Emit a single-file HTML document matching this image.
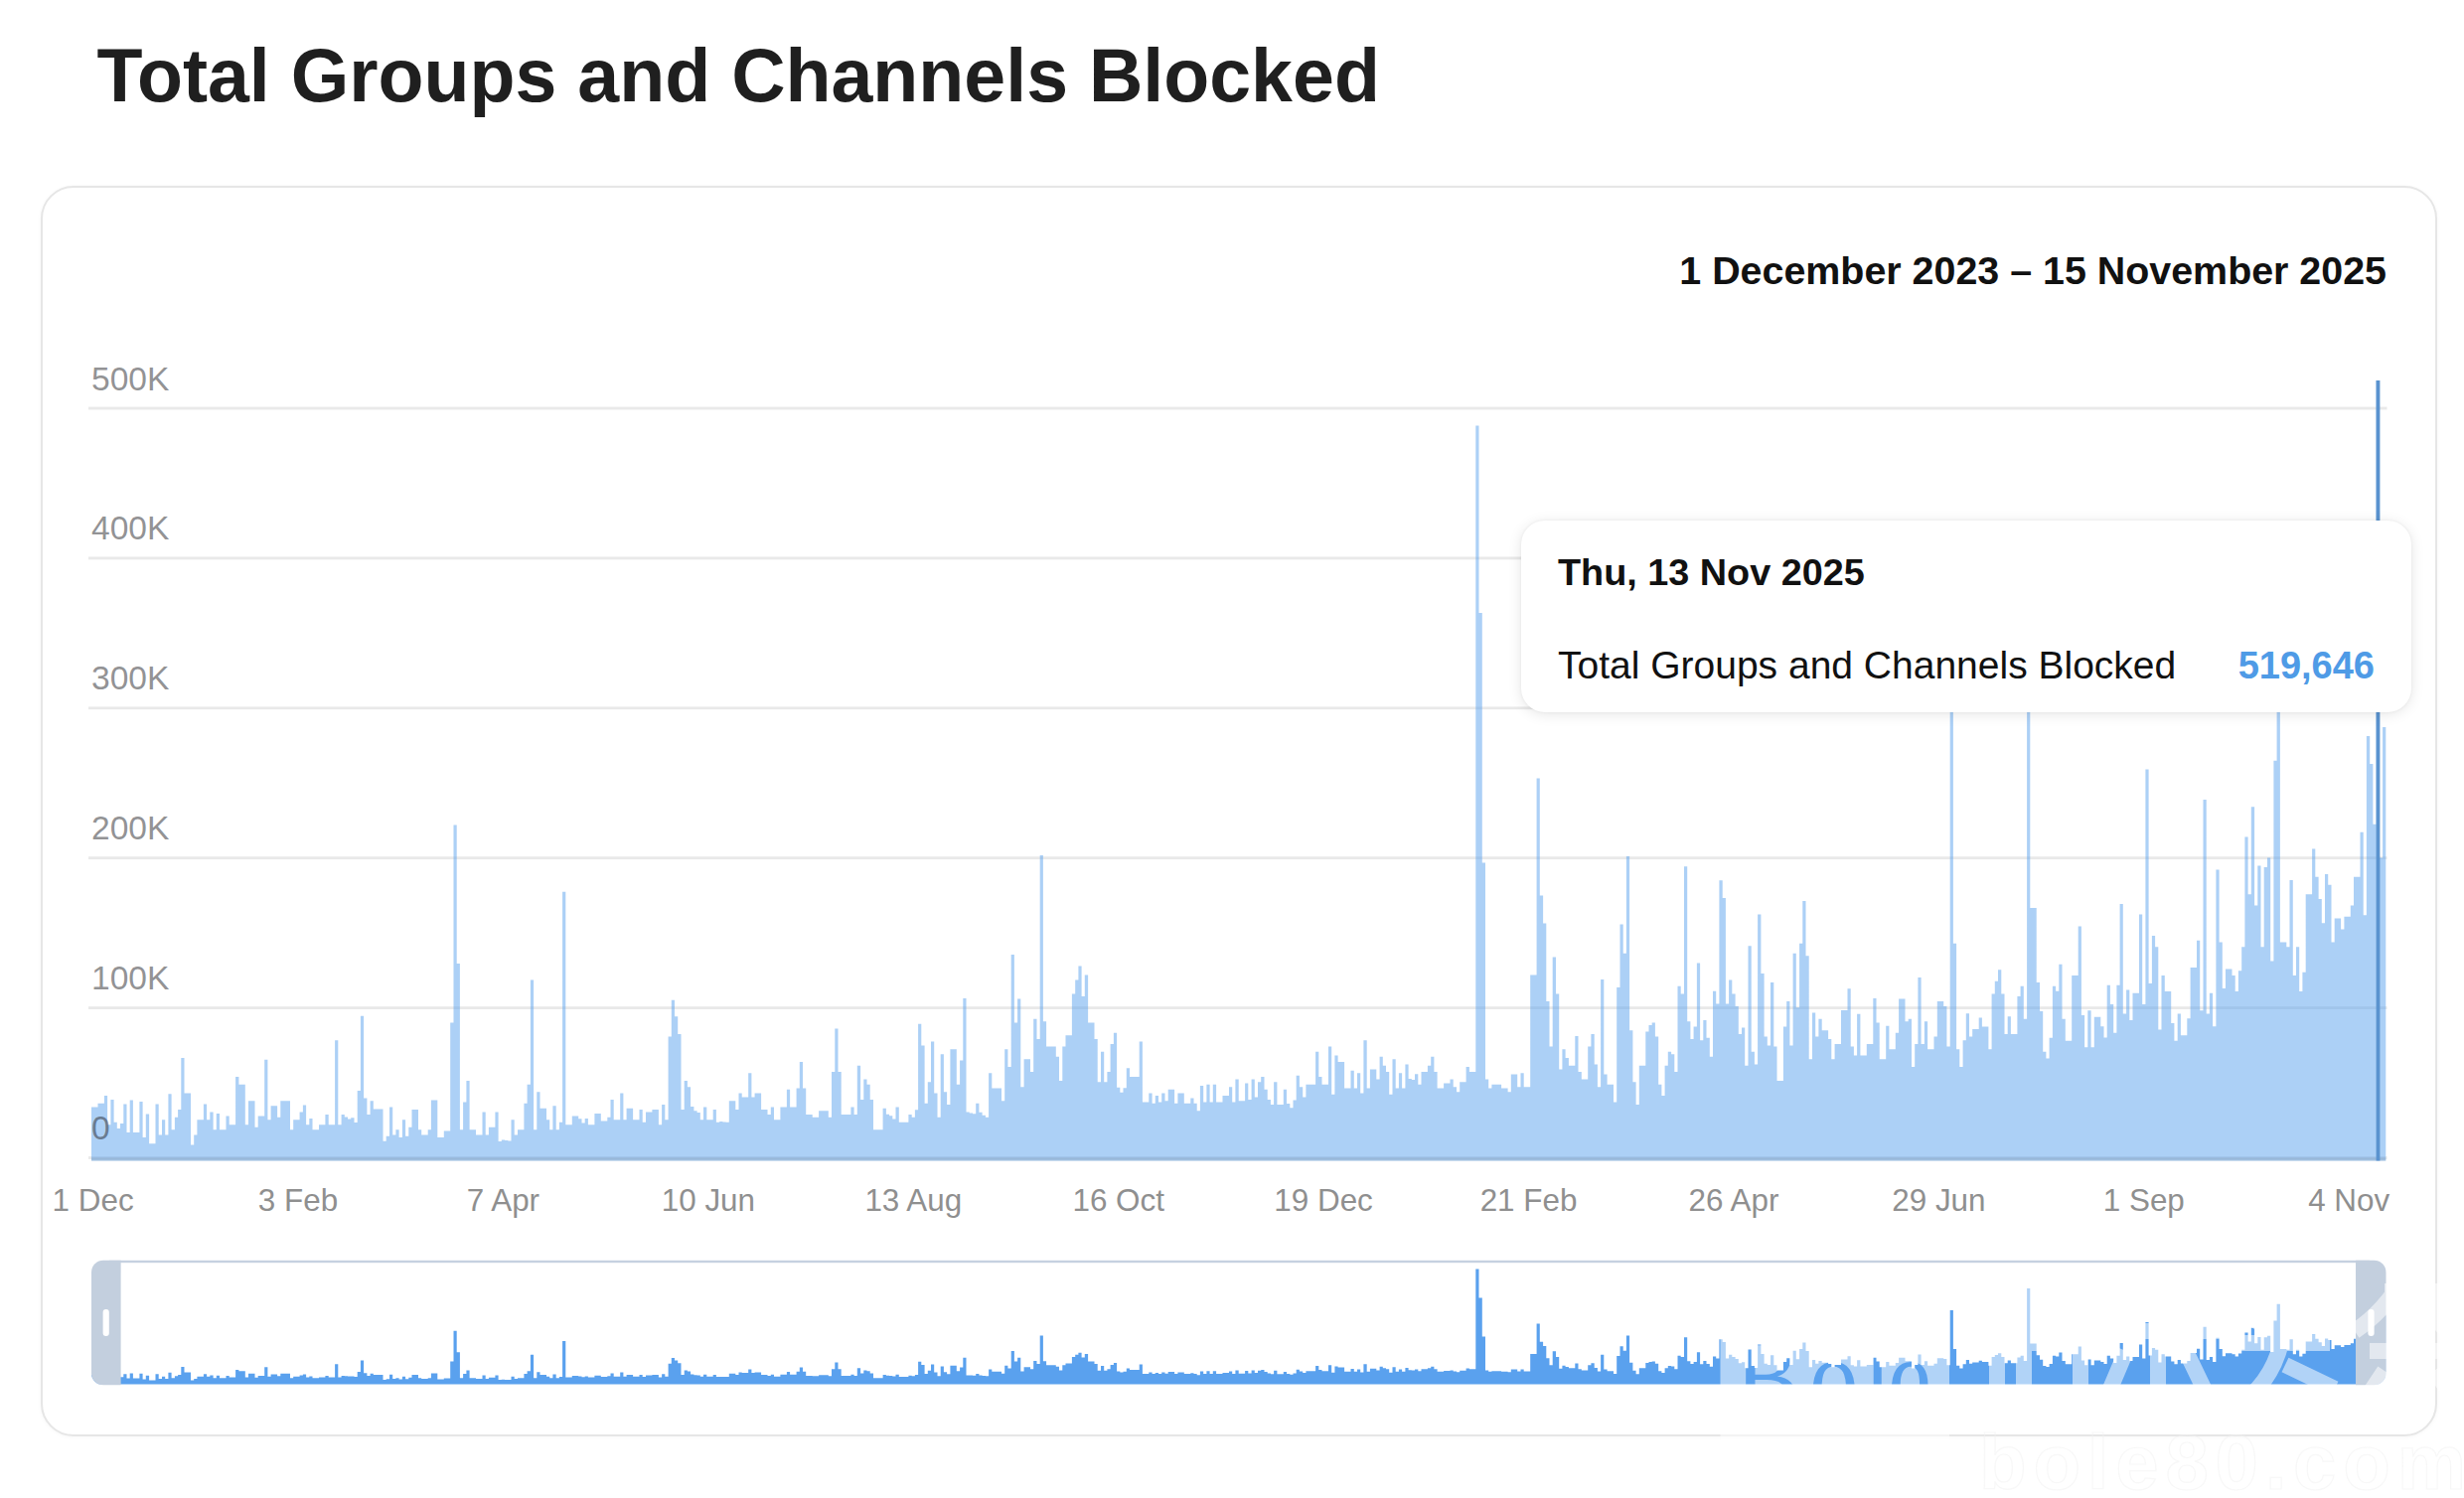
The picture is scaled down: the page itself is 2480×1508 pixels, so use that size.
<!DOCTYPE html>
<html><head><meta charset="utf-8"><title>Total Groups and Channels Blocked</title>
<style>
html,body{margin:0;padding:0;background:#fff;}
body{width:2480px;height:1508px;position:relative;overflow:hidden;font-family:"Liberation Sans",sans-serif;}
.abs{position:absolute;white-space:nowrap;}
#title{left:97.5px;top:32px;font-size:75.3px;font-weight:bold;color:#1f1f1f;line-height:88px;letter-spacing:0px;}
#card{left:40.5px;top:187px;width:2408px;height:1254.5px;border:2.8px solid #e6e6e6;border-radius:33px;box-sizing:content-box;background:#fff;box-shadow:0 1px 5px rgba(0,0,0,0.03);}
#range{right:78px;top:249px;font-size:39.4px;font-weight:bold;color:#111;line-height:46px;}
.yl{left:92px;font-size:33.6px;color:rgba(40,40,44,0.52);line-height:36px;}
.xl{font-size:31.4px;color:#8f8f8f;line-height:36px;top:1190.6px;transform:translateX(-50%);}
#tip{left:1531px;top:524px;width:896px;height:193px;border-radius:24px;background:#fff;box-shadow:0 2px 14px rgba(0,0,0,0.10),0 0 3px rgba(0,0,0,0.06);}
#tipdate{left:37px;top:30.7px;font-size:37.8px;font-weight:bold;color:#111;line-height:42px;}
#tiplabel{left:37px;top:124.7px;font-size:39px;color:#111;line-height:42px;}
#tipval{right:37px;top:124.7px;font-size:38px;font-weight:bold;color:#4f9be6;line-height:42px;}
svg{position:absolute;left:0;top:0;}
</style></head><body>
<div class="abs" id="title">Total Groups and Channels Blocked</div>
<div class="abs" id="card"></div>
<div class="abs" id="range">1 December 2023 – 15 November 2025</div>

<svg width="2480" height="1508" viewBox="0 0 2480 1508"><rect x="89" y="409.6" width="2313.5" height="2.8" fill="#e9e9e9"/><rect x="89" y="560.5" width="2313.5" height="2.8" fill="#e9e9e9"/><rect x="89" y="711.4" width="2313.5" height="2.8" fill="#e9e9e9"/><rect x="89" y="862.3" width="2313.5" height="2.8" fill="#e9e9e9"/><rect x="89" y="1013.2" width="2313.5" height="2.8" fill="#e9e9e9"/><rect x="89" y="1164.1" width="2313.5" height="2.8" fill="#e9e9e9"/></svg>
<svg width="2480" height="1508" viewBox="0 0 2480 1508"><path d="M92.0,1168.5V1114.5H95.2V1114.5H98.5V1110.7H101.7V1110.7H104.9V1103.1H108.1V1132.3H111.4V1106.9H114.6V1129.8H117.8V1136.1H121.0V1130.9H124.3V1111.5H127.5V1139.9H130.7V1107.4H133.9V1139.9H137.2V1139.9H140.4V1108.9H143.6V1145.0H146.8V1121.6H150.1V1151.3H153.3V1151.3H156.5V1111.5H159.7V1142.4H163.0V1127.2H166.2V1142.4H169.4V1101.3H172.6V1137.3H175.9V1124.7H179.1V1117.1H182.3V1065.1H185.5V1100.6H188.8V1100.6H192.0V1152.6H195.2V1142.4H198.4V1127.2H201.7V1127.2H204.9V1111.5H208.1V1127.2H211.3V1119.6H214.6V1137.3H217.8V1120.9H221.0V1137.3H224.2V1137.3H227.5V1123.4H230.7V1132.3H233.9V1132.3H237.1V1084.1H240.4V1091.7H243.6V1091.7H246.8V1132.3H250.0V1108.2H253.3V1108.2H256.5V1134.8H259.7V1123.4H262.9V1123.4H266.2V1066.8H269.4V1127.2H272.6V1113.3H275.8V1113.3H279.1V1124.7H282.3V1108.2H285.5V1108.2H288.7V1108.2H292.0V1137.3H295.2V1127.2H298.4V1127.2H301.6V1119.6H304.9V1112.5H308.1V1132.3H311.3V1125.9H314.5V1137.3H317.8V1137.3H321.0V1132.3H324.2V1132.3H327.4V1122.1H330.7V1132.3H333.9V1132.3H337.1V1047.3H340.3V1132.3H343.6V1122.1H346.8V1124.4H350.0V1126.6H353.2V1125.3H356.5V1129.9H359.7V1098.0H362.9V1022.7H366.1V1105.6H369.4V1122.1H372.6V1108.2H375.8V1116.6H379.0V1116.6H382.3V1116.6H385.5V1148.8H388.7V1143.7H392.0V1114.5H395.2V1142.4H398.4V1137.3H401.6V1145.0H404.9V1127.2H408.1V1143.7H411.3V1134.8H414.5V1117.1H417.8V1117.1H421.0V1137.3H424.2V1142.4H427.4V1142.4H430.7V1137.3H433.9V1107.4H437.1V1107.4H440.3V1145.0H443.6V1145.0H446.8V1138.6H450.0V1138.6H453.2V1029.5H456.5V830.4H459.7V969.9H462.9V1137.3H466.1V1109.4H469.4V1087.9H472.6V1137.3H475.8V1137.3H479.0V1142.4H482.3V1142.4H485.5V1119.6H488.7V1142.4H491.9V1134.8H495.2V1134.8H498.4V1119.6H501.6V1149.0H504.8V1147.4H508.1V1148.1H511.3V1148.6H514.5V1127.2H517.7V1142.4H521.0V1137.3H524.2V1137.3H527.4V1110.7H530.6V1091.7H533.9V986.4H537.1V1137.3H540.3V1099.3H543.5V1115.8H546.8V1115.8H550.0V1127.2H553.2V1137.3H556.4V1113.3H559.7V1137.3H562.9V1129.7H566.1V897.7H569.3V1132.3H572.6V1132.3H575.8V1123.4H579.0V1123.4H582.2V1126.2H585.5V1130.5H588.7V1126.0H591.9V1132.3H595.1V1132.3H598.4V1120.9H601.6V1120.9H604.8V1128.5H608.0V1128.5H611.3V1124.7H614.5V1106.9H617.7V1127.2H620.9V1127.2H624.2V1100.6H627.4V1127.2H630.6V1115.8H633.8V1115.8H637.1V1127.2H640.3V1127.2H643.5V1117.1H646.7V1129.7H650.0V1119.6H653.2V1119.6H656.4V1117.1H659.6V1117.1H662.9V1132.3H666.1V1112.0H669.3V1127.2H672.6V1043.5H675.8V1006.7H679.0V1023.2H682.2V1041.0H685.5V1117.1H688.7V1087.9H691.9V1094.2H695.1V1114.1H698.4V1118.3H701.6V1119.9H704.8V1127.2H708.0V1114.5H711.3V1127.2H714.5V1127.2H717.7V1117.1H720.9V1129.7H724.2V1128.9H727.4V1129.6H730.6V1129.7H733.8V1108.2H737.1V1108.2H740.3V1117.1H743.5V1100.6H746.7V1104.4H750.0V1104.4H753.2V1080.3H756.4V1104.4H759.6V1100.6H762.9V1100.6H766.1V1117.1H769.3V1117.1H772.5V1122.1H775.8V1114.5H779.0V1127.2H782.2V1127.2H785.4V1114.5H788.7V1114.5H791.9V1096.8H795.1V1114.5H798.3V1114.5H801.6V1095.5H804.8V1068.9H808.0V1095.5H811.2V1122.1H814.5V1122.1H817.7V1124.7H820.9V1124.7H824.1V1118.3H827.4V1118.3H830.6V1118.3H833.8V1124.7H837.0V1079.0H840.3V1035.4H843.5V1079.0H846.7V1122.1H849.9V1122.1H853.2V1122.1H856.4V1114.5H859.6V1122.1H862.8V1072.7H866.1V1106.9H869.3V1086.6H872.5V1091.7H875.7V1106.9H879.0V1137.3H882.2V1137.3H885.4V1137.3H888.6V1115.8H891.9V1121.7H895.1V1123.3H898.3V1126.4H901.5V1114.5H904.8V1129.7H908.0V1129.7H911.2V1129.7H914.4V1121.9H917.7V1124.8H920.9V1117.3H924.1V1030.8H927.3V1052.4H930.6V1110.7H933.8V1089.2H937.0V1048.6H940.2V1100.6H943.5V1124.7H946.7V1061.3H949.9V1099.3H953.1V1112.0H956.4V1056.2H959.6V1056.2H962.8V1091.7H966.1V1067.6H969.3V1004.9H972.5V1119.6H975.7V1120.5H979.0V1121.3H982.2V1110.7H985.4V1119.7H988.6V1122.8H991.9V1124.8H995.1V1080.3H998.3V1095.5H1001.5V1095.5H1004.8V1095.5H1008.0V1108.2H1011.2V1056.2H1014.4V1073.9H1017.7V961.1H1020.9V1029.5H1024.1V1005.5H1027.3V1094.2H1030.6V1066.3H1033.8V1066.3H1037.0V1079.0H1040.2V1025.7H1043.5V1046.0H1046.7V860.9H1049.9V1028.3H1053.1V1053.6H1056.4V1053.6H1059.6V1053.6H1062.8V1063.8H1066.0V1087.9H1069.3V1053.6H1072.5V1042.2H1075.7V1042.2H1078.9V1000.4H1082.2V986.4H1085.4V972.5H1088.6V1002.9H1091.8V981.4H1095.1V1029.5H1098.3V1029.5H1101.5V1046.0H1104.7V1089.2H1108.0V1058.7H1111.2V1089.2H1114.4V1079.0H1117.6V1051.1H1120.9V1039.7H1124.1V1094.8H1127.3V1099.7H1130.5V1095.2H1133.8V1075.2H1137.0V1084.1H1140.2V1084.1H1143.4V1084.1H1146.7V1048.6H1149.9V1109.4H1153.1V1109.4H1156.3V1100.6H1159.6V1110.7H1162.8V1103.1H1166.0V1109.4H1169.2V1100.6H1172.5V1108.2H1175.7V1096.8H1178.9V1096.8H1182.1V1110.7H1185.4V1100.6H1188.6V1100.6H1191.8V1110.7H1195.0V1110.7H1198.3V1105.6H1201.5V1110.7H1204.7V1118.3H1207.9V1093.0H1211.2V1109.4H1214.4V1091.7H1217.6V1109.4H1220.8V1091.7H1224.1V1109.4H1227.3V1109.4H1230.5V1103.1H1233.7V1103.1H1237.0V1094.2H1240.2V1109.4H1243.4V1086.6H1246.7V1108.2H1249.9V1108.2H1253.1V1090.4H1256.3V1106.9H1259.6V1086.6H1262.8V1104.4H1266.0V1089.2H1269.2V1084.1H1272.5V1096.8H1275.7V1106.9H1278.9V1112.0H1282.1V1089.2H1285.4V1112.0H1288.6V1112.0H1291.8V1096.8H1295.0V1111.0H1298.3V1115.3H1301.5V1107.4H1304.7V1082.8H1307.9V1094.2H1311.2V1104.4H1314.4V1091.7H1317.6V1091.7H1320.8V1091.7H1324.1V1058.7H1327.3V1084.1H1330.5V1091.7H1333.7V1091.7H1337.0V1053.6H1340.2V1101.8H1343.4V1062.5H1346.6V1068.9H1349.9V1068.9H1353.1V1095.5H1356.3V1095.5H1359.5V1077.7H1362.8V1095.5H1366.0V1080.3H1369.2V1100.6H1372.4V1047.3H1375.7V1095.5H1378.9V1076.5H1382.1V1076.5H1385.3V1086.6H1388.6V1063.8H1391.8V1072.7H1395.0V1079.0H1398.2V1101.8H1401.5V1066.3H1404.7V1095.5H1407.9V1080.3H1411.1V1095.5H1414.4V1071.4H1417.6V1086.0H1420.8V1087.1H1424.0V1081.3H1427.3V1091.7H1430.5V1079.0H1433.7V1079.0H1436.9V1072.7H1440.2V1063.8H1443.4V1079.0H1446.6V1095.5H1449.8V1095.5H1453.1V1090.4H1456.3V1090.4H1459.5V1086.6H1462.7V1094.2H1466.0V1099.3H1469.2V1089.2H1472.4V1089.2H1475.6V1073.9H1478.9V1079.0H1482.1V1079.0H1485.3V428.4H1488.5V617.1H1491.8V868.5H1495.0V1086.6H1498.2V1095.5H1501.4V1091.7H1504.7V1091.7H1507.9V1091.7H1511.1V1095.5H1514.3V1095.5H1517.6V1099.3H1520.8V1081.5H1524.0V1081.5H1527.2V1094.2H1530.5V1080.3H1533.7V1094.2H1536.9V1094.2H1540.2V981.4H1543.4V981.4H1546.6V783.5H1549.8V901.5H1553.1V929.4H1556.3V1008.0H1559.5V1053.6H1562.7V963.6H1566.0V1000.4H1569.2V1076.5H1572.4V1056.2H1575.6V1065.1H1578.9V1072.7H1582.1V1072.7H1585.3V1043.0H1588.5V1079.0H1591.8V1086.6H1595.0V1086.6H1598.2V1053.6H1601.4V1041.0H1604.7V1071.4H1607.9V1094.2H1611.1V985.9H1614.3V1081.5H1617.6V1091.7H1620.8V1091.7H1624.0V1109.4H1627.2V994.0H1630.5V930.6H1633.7V959.8H1636.9V862.1H1640.1V1037.2H1643.4V1089.2H1646.6V1112.0H1649.8V1072.7H1653.0V1072.7H1656.3V1038.4H1659.5V1032.1H1662.7V1029.5H1665.9V1043.5H1669.2V1091.7H1672.4V1103.1H1675.6V1072.7H1678.8V1058.7H1682.1V1061.3H1685.3V1079.0H1688.5V992.8H1691.7V1000.4H1695.0V872.3H1698.2V1028.3H1701.4V1046.0H1704.6V1033.4H1707.9V969.4H1711.1V1047.3H1714.3V1027.0H1717.5V1044.8H1720.8V1063.8H1724.0V997.8H1727.2V1010.5H1730.4V886.2H1733.7V904.0H1736.9V1010.5H1740.1V986.4H1743.3V1000.4H1746.6V1013.1H1749.8V1041.0H1753.0V1034.6H1756.2V1072.7H1759.5V952.2H1762.7V1058.7H1765.9V1071.4H1769.1V920.5H1772.4V980.1H1775.6V1043.5H1778.8V1052.4H1782.0V989.0H1785.3V1053.6H1788.5V1087.9H1791.7V1087.9H1794.9V1033.4H1798.2V1008.0H1801.4V1052.4H1804.6V959.8H1807.8V1014.3H1811.1V949.7H1814.3V907.0H1817.5V962.3H1820.7V1066.3H1824.0V1019.4H1827.2V1043.5H1830.4V1025.7H1833.7V1037.2H1836.9V1037.2H1840.1V1046.0H1843.3V1066.3H1846.6V1051.1H1849.8V1051.1H1853.0V1016.9H1856.2V1016.9H1859.5V995.3H1862.7V1053.6H1865.9V1062.5H1869.1V1020.7H1872.4V1062.5H1875.6V1062.5H1878.8V1051.1H1882.0V1051.1H1885.3V1004.9H1888.5V1029.5H1891.7V1066.3H1894.9V1066.3H1898.2V1032.8H1901.4V1056.2H1904.6V1056.2H1907.8V1039.7H1911.1V1005.5H1914.3V1005.5H1917.5V1028.3H1920.7V1025.7H1924.0V1073.9H1927.2V1051.1H1930.4V983.9H1933.6V1051.1H1936.9V1028.3H1940.1V1056.2H1943.3V1056.2H1946.5V1043.5H1949.8V1008.0H1953.0V1008.0H1956.2V1013.1H1959.4V1053.6H1962.7V696.5H1965.9V949.7H1969.1V1056.2H1972.3V1073.9H1975.6V1047.3H1978.8V1020.2H1982.0V1043.5H1985.2V1035.9H1988.5V1035.9H1991.7V1024.5H1994.9V1033.4H1998.1V1033.4H2001.4V1056.2H2004.6V1000.4H2007.8V987.7H2011.0V976.3H2014.3V1000.4H2017.5V1041.0H2020.7V1023.2H2023.9V1041.0H2027.2V1041.0H2030.4V1002.9H2033.6V992.8H2036.8V1025.7H2040.1V556.0H2043.3V914.1H2046.5V914.1H2049.7V989.0H2053.0V1018.1H2056.2V1058.7H2059.4V1065.4H2062.6V1044.8H2065.9V992.8H2069.1V997.8H2072.3V970.8H2075.5V1025.7H2078.8V1047.8H2082.0V1047.8H2085.2V982.1H2088.4V982.1H2091.7V932.4H2094.9V1022.1H2098.1V1054.2H2101.3V1017.3H2104.6V1054.2H2107.8V1023.7H2111.0V1023.7H2114.3V1033.3H2117.5V1044.6H2120.7V991.7H2123.9V1010.9H2127.2V1039.7H2130.4V991.7H2133.6V909.9H2136.8V1020.5H2140.1V996.5H2143.3V1026.9H2146.5V999.7H2149.7V999.7H2153.0V920.5H2156.2V1010.9H2159.4V774.4H2162.6V990.1H2165.9V942.0H2169.1V953.2H2172.3V1036.5H2175.5V982.1H2178.8V998.1H2182.0V998.1H2185.2V1030.1H2188.4V1047.8H2191.7V1020.5H2194.9V1042.3H2198.1V1042.3H2201.3V1025.3H2204.6V974.0H2207.8V974.0H2211.0V946.8H2214.2V1017.3H2217.5V805.1H2220.7V1020.5H2223.9V999.7H2227.1V1033.3H2230.4V875.6H2233.6V948.4H2236.8V994.9H2240.0V975.6H2243.3V975.6H2246.5V982.1H2249.7V998.1H2252.9V977.2H2256.2V953.2H2259.4V842.6H2262.6V900.3H2265.8V812.2H2269.1V911.5H2272.3V871.5H2275.5V953.2H2278.7V873.1H2282.0V863.5H2285.2V967.6H2288.4V765.7H2291.6V657.1H2294.9V948.4H2298.1V948.4H2301.3V953.2H2304.5V885.9H2307.8V982.1H2311.0V953.2H2314.2V998.1H2317.4V978.8H2320.7V900.3H2323.9V900.3H2327.1V854.5H2330.3V882.7H2333.6V905.1H2336.8V929.2H2340.0V880.1H2343.2V890.7H2346.5V948.4H2349.7V924.4H2352.9V924.4H2356.1V935.6H2359.4V922.8H2362.6V922.8H2365.8V911.5H2369.0V882.7H2372.3V882.7H2375.5V837.8H2378.7V921.2H2381.9V741.0H2385.2V768.9H2388.4V829.8H2391.6V383.0H2394.8V863.5H2398.1V732.1H2401.3V1168.5Z" fill="#5aa1ee" fill-opacity="0.5"/><rect x="92.0" y="1165.3" width="2309.3" height="3.2" fill="#7f93a8" fill-opacity="0.28"/><rect x="2391.6" y="383" width="3.8" height="785.5" fill="#5a93cf"/><clipPath id="pc"><rect x="92" y="1268.8" width="2309.5" height="125.4" rx="12"/></clipPath><path d="M92.0,1393.6V1383.7H95.2V1383.7H98.5V1383.1H101.7V1383.1H104.9V1381.9H108.1V1386.5H111.4V1382.5H114.6V1386.1H117.8V1387.0H121.0V1386.2H124.3V1383.2H127.5V1387.6H130.7V1382.6H133.9V1387.6H137.2V1387.6H140.4V1382.8H143.6V1388.4H146.8V1384.8H150.1V1389.4H153.3V1389.4H156.5V1383.2H159.7V1388.0H163.0V1385.7H166.2V1388.0H169.4V1381.7H172.6V1387.2H175.9V1385.3H179.1V1384.1H182.3V1376.0H185.5V1381.5H188.8V1381.5H192.0V1389.6H195.2V1388.0H198.4V1385.7H201.7V1385.7H204.9V1383.2H208.1V1385.7H211.3V1384.5H214.6V1387.2H217.8V1384.7H221.0V1387.2H224.2V1387.2H227.5V1385.1H230.7V1386.5H233.9V1386.5H237.1V1379.0H240.4V1380.2H243.6V1380.2H246.8V1386.5H250.0V1382.7H253.3V1382.7H256.5V1386.8H259.7V1385.1H262.9V1385.1H266.2V1376.3H269.4V1385.7H272.6V1383.5H275.8V1383.5H279.1V1385.3H282.3V1382.7H285.5V1382.7H288.7V1382.7H292.0V1387.2H295.2V1385.7H298.4V1385.7H301.6V1384.5H304.9V1383.4H308.1V1386.5H311.3V1385.5H314.5V1387.2H317.8V1387.2H321.0V1386.5H324.2V1386.5H327.4V1384.9H330.7V1386.5H333.9V1386.5H337.1V1373.3H340.3V1386.5H343.6V1384.9H346.8V1385.2H350.0V1385.6H353.2V1385.4H356.5V1386.1H359.7V1381.1H362.9V1369.5H366.1V1382.3H369.4V1384.9H372.6V1382.7H375.8V1384.0H379.0V1384.0H382.3V1384.0H385.5V1389.0H388.7V1388.2H392.0V1383.7H395.2V1388.0H398.4V1387.2H401.6V1388.4H404.9V1385.7H408.1V1388.2H411.3V1386.8H414.5V1384.1H417.8V1384.1H421.0V1387.2H424.2V1388.0H427.4V1388.0H430.7V1387.2H433.9V1382.6H437.1V1382.6H440.3V1388.4H443.6V1388.4H446.8V1387.4H450.0V1387.4H453.2V1370.5H456.5V1339.7H459.7V1361.3H462.9V1387.2H466.1V1382.9H469.4V1379.6H472.6V1387.2H475.8V1387.2H479.0V1388.0H482.3V1388.0H485.5V1384.5H488.7V1388.0H491.9V1386.8H495.2V1386.8H498.4V1384.5H501.6V1389.0H504.8V1388.8H508.1V1388.9H511.3V1389.0H514.5V1385.7H517.7V1388.0H521.0V1387.2H524.2V1387.2H527.4V1383.1H530.6V1380.2H533.9V1363.8H537.1V1387.2H540.3V1381.3H543.5V1383.9H546.8V1383.9H550.0V1385.7H553.2V1387.2H556.4V1383.5H559.7V1387.2H562.9V1386.1H566.1V1350.1H569.3V1386.5H572.6V1386.5H575.8V1385.1H579.0V1385.1H582.2V1385.5H585.5V1386.2H588.7V1385.5H591.9V1386.5H595.1V1386.5H598.4V1384.7H601.6V1384.7H604.8V1385.9H608.0V1385.9H611.3V1385.3H614.5V1382.5H617.7V1385.7H620.9V1385.7H624.2V1381.5H627.4V1385.7H630.6V1383.9H633.8V1383.9H637.1V1385.7H640.3V1385.7H643.5V1384.1H646.7V1386.1H650.0V1384.5H653.2V1384.5H656.4V1384.1H659.6V1384.1H662.9V1386.5H666.1V1383.3H669.3V1385.7H672.6V1372.7H675.8V1367.0H679.0V1369.5H682.2V1372.3H685.5V1384.1H688.7V1379.6H691.9V1380.6H695.1V1383.6H698.4V1384.3H701.6V1384.5H704.8V1385.7H708.0V1383.7H711.3V1385.7H714.5V1385.7H717.7V1384.1H720.9V1386.1H724.2V1385.9H727.4V1386.0H730.6V1386.0H733.8V1382.7H737.1V1382.7H740.3V1384.1H743.5V1381.5H746.7V1382.1H750.0V1382.1H753.2V1378.4H756.4V1382.1H759.6V1381.5H762.9V1381.5H766.1V1384.1H769.3V1384.1H772.5V1384.9H775.8V1383.7H779.0V1385.7H782.2V1385.7H785.4V1383.7H788.7V1383.7H791.9V1380.9H795.1V1383.7H798.3V1383.7H801.6V1380.7H804.8V1376.6H808.0V1380.7H811.2V1384.9H814.5V1384.9H817.7V1385.3H820.9V1385.3H824.1V1384.3H827.4V1384.3H830.6V1384.3H833.8V1385.3H837.0V1378.2H840.3V1371.4H843.5V1378.2H846.7V1384.9H849.9V1384.9H853.2V1384.9H856.4V1383.7H859.6V1384.9H862.8V1377.2H866.1V1382.5H869.3V1379.4H872.5V1380.2H875.7V1382.5H879.0V1387.2H882.2V1387.2H885.4V1387.2H888.6V1383.9H891.9V1384.8H895.1V1385.1H898.3V1385.5H901.5V1383.7H904.8V1386.1H908.0V1386.1H911.2V1386.1H914.4V1384.8H917.7V1385.3H920.9V1384.1H924.1V1370.7H927.3V1374.1H930.6V1383.1H933.8V1379.8H937.0V1373.5H940.2V1381.5H943.5V1385.3H946.7V1375.4H949.9V1381.3H953.1V1383.3H956.4V1374.7H959.6V1374.7H962.8V1380.2H966.1V1376.4H969.3V1366.7H972.5V1384.5H975.7V1384.6H979.0V1384.7H982.2V1383.1H985.4V1384.5H988.6V1385.0H991.9V1385.3H995.1V1378.4H998.3V1380.7H1001.5V1380.7H1004.8V1380.7H1008.0V1382.7H1011.2V1374.7H1014.4V1377.4H1017.7V1359.9H1020.9V1370.5H1024.1V1366.8H1027.3V1380.6H1030.6V1376.2H1033.8V1376.2H1037.0V1378.2H1040.2V1369.9H1043.5V1373.1H1046.7V1344.4H1049.9V1370.3H1053.1V1374.3H1056.4V1374.3H1059.6V1374.3H1062.8V1375.8H1066.0V1379.6H1069.3V1374.3H1072.5V1372.5H1075.7V1372.5H1078.9V1366.0H1082.2V1363.8H1085.4V1361.7H1088.6V1366.4H1091.8V1363.1H1095.1V1370.5H1098.3V1370.5H1101.5V1373.1H1104.7V1379.8H1108.0V1375.0H1111.2V1379.8H1114.4V1378.2H1117.6V1373.9H1120.9V1372.1H1124.1V1380.6H1127.3V1381.4H1130.5V1380.7H1133.8V1377.6H1137.0V1379.0H1140.2V1379.0H1143.4V1379.0H1146.7V1373.5H1149.9V1382.9H1153.1V1382.9H1156.3V1381.5H1159.6V1383.1H1162.8V1381.9H1166.0V1382.9H1169.2V1381.5H1172.5V1382.7H1175.7V1380.9H1178.9V1380.9H1182.1V1383.1H1185.4V1381.5H1188.6V1381.5H1191.8V1383.1H1195.0V1383.1H1198.3V1382.3H1201.5V1383.1H1204.7V1384.3H1207.9V1380.4H1211.2V1382.9H1214.4V1380.2H1217.6V1382.9H1220.8V1380.2H1224.1V1382.9H1227.3V1382.9H1230.5V1381.9H1233.7V1381.9H1237.0V1380.6H1240.2V1382.9H1243.4V1379.4H1246.7V1382.7H1249.9V1382.7H1253.1V1380.0H1256.3V1382.5H1259.6V1379.4H1262.8V1382.1H1266.0V1379.8H1269.2V1379.0H1272.5V1380.9H1275.7V1382.5H1278.9V1383.3H1282.1V1379.8H1285.4V1383.3H1288.6V1383.3H1291.8V1380.9H1295.0V1383.1H1298.3V1383.8H1301.5V1382.6H1304.7V1378.8H1307.9V1380.6H1311.2V1382.1H1314.4V1380.2H1317.6V1380.2H1320.8V1380.2H1324.1V1375.0H1327.3V1379.0H1330.5V1380.2H1333.7V1380.2H1337.0V1374.3H1340.2V1381.7H1343.4V1375.6H1346.6V1376.6H1349.9V1376.6H1353.1V1380.7H1356.3V1380.7H1359.5V1378.0H1362.8V1380.7H1366.0V1378.4H1369.2V1381.5H1372.4V1373.3H1375.7V1380.7H1378.9V1377.8H1382.1V1377.8H1385.3V1379.4H1388.6V1375.8H1391.8V1377.2H1395.0V1378.2H1398.2V1381.7H1401.5V1376.2H1404.7V1380.7H1407.9V1378.4H1411.1V1380.7H1414.4V1377.0H1417.6V1379.3H1420.8V1379.4H1424.0V1378.5H1427.3V1380.2H1430.5V1378.2H1433.7V1378.2H1436.9V1377.2H1440.2V1375.8H1443.4V1378.2H1446.6V1380.7H1449.8V1380.7H1453.1V1380.0H1456.3V1380.0H1459.5V1379.4H1462.7V1380.6H1466.0V1381.3H1469.2V1379.8H1472.4V1379.8H1475.6V1377.4H1478.9V1378.2H1482.1V1378.2H1485.3V1277.4H1488.5V1306.6H1491.8V1345.6H1495.0V1379.4H1498.2V1380.7H1501.4V1380.2H1504.7V1380.2H1507.9V1380.2H1511.1V1380.7H1514.3V1380.7H1517.6V1381.3H1520.8V1378.6H1524.0V1378.6H1527.2V1380.6H1530.5V1378.4H1533.7V1380.6H1536.9V1380.6H1540.2V1363.1H1543.4V1363.1H1546.6V1332.4H1549.8V1350.7H1553.1V1355.0H1556.3V1367.2H1559.5V1374.3H1562.7V1360.3H1566.0V1366.0H1569.2V1377.8H1572.4V1374.7H1575.6V1376.0H1578.9V1377.2H1582.1V1377.2H1585.3V1372.6H1588.5V1378.2H1591.8V1379.4H1595.0V1379.4H1598.2V1374.3H1601.4V1372.3H1604.7V1377.0H1607.9V1380.6H1611.1V1363.8H1614.3V1378.6H1617.6V1380.2H1620.8V1380.2H1624.0V1382.9H1627.2V1365.0H1630.5V1355.2H1633.7V1359.7H1636.9V1344.6H1640.1V1371.7H1643.4V1379.8H1646.6V1383.3H1649.8V1377.2H1653.0V1377.2H1656.3V1371.9H1659.5V1370.9H1662.7V1370.5H1665.9V1372.7H1669.2V1380.2H1672.4V1381.9H1675.6V1377.2H1678.8V1375.0H1682.1V1375.4H1685.3V1378.2H1688.5V1364.8H1691.7V1366.0H1695.0V1346.2H1698.2V1370.3H1701.4V1373.1H1704.6V1371.1H1707.9V1361.2H1711.1V1373.3H1714.3V1370.1H1717.5V1372.9H1720.8V1375.8H1724.0V1365.6H1727.2V1367.6H1730.4V1348.3H1733.7V1351.1H1736.9V1367.6H1740.1V1363.8H1743.3V1366.0H1746.6V1368.0H1749.8V1372.3H1753.0V1371.3H1756.2V1377.2H1759.5V1358.5H1762.7V1375.0H1765.9V1377.0H1769.1V1353.6H1772.4V1362.9H1775.6V1372.7H1778.8V1374.1H1782.0V1364.2H1785.3V1374.3H1788.5V1379.6H1791.7V1379.6H1794.9V1371.1H1798.2V1367.2H1801.4V1374.1H1804.6V1359.7H1807.8V1368.2H1811.1V1358.1H1814.3V1351.5H1817.5V1360.1H1820.7V1376.2H1824.0V1369.0H1827.2V1372.7H1830.4V1369.9H1833.7V1371.7H1836.9V1371.7H1840.1V1373.1H1843.3V1376.2H1846.6V1373.9H1849.8V1373.9H1853.0V1368.6H1856.2V1368.6H1859.5V1365.2H1862.7V1374.3H1865.9V1375.6H1869.1V1369.2H1872.4V1375.6H1875.6V1375.6H1878.8V1373.9H1882.0V1373.9H1885.3V1366.7H1888.5V1370.5H1891.7V1376.2H1894.9V1376.2H1898.2V1371.0H1901.4V1374.7H1904.6V1374.7H1907.8V1372.1H1911.1V1366.8H1914.3V1366.8H1917.5V1370.3H1920.7V1369.9H1924.0V1377.4H1927.2V1373.9H1930.4V1363.5H1933.6V1373.9H1936.9V1370.3H1940.1V1374.7H1943.3V1374.7H1946.5V1372.7H1949.8V1367.2H1953.0V1367.2H1956.2V1368.0H1959.4V1374.3H1962.7V1318.9H1965.9V1358.1H1969.1V1374.7H1972.3V1377.4H1975.6V1373.3H1978.8V1369.1H1982.0V1372.7H1985.2V1371.5H1988.5V1371.5H1991.7V1369.7H1994.9V1371.1H1998.1V1371.1H2001.4V1374.7H2004.6V1366.0H2007.8V1364.0H2011.0V1362.3H2014.3V1366.0H2017.5V1372.3H2020.7V1369.5H2023.9V1372.3H2027.2V1372.3H2030.4V1366.4H2033.6V1364.8H2036.8V1369.9H2040.1V1297.1H2043.3V1352.6H2046.5V1352.6H2049.7V1364.2H2053.0V1368.8H2056.2V1375.0H2059.4V1376.1H2062.6V1372.9H2065.9V1364.8H2069.1V1365.6H2072.3V1361.4H2075.5V1369.9H2078.8V1373.3H2082.0V1373.3H2085.2V1363.2H2088.4V1363.2H2091.7V1355.5H2094.9V1369.4H2098.1V1374.3H2101.3V1368.6H2104.6V1374.3H2107.8V1369.6H2111.0V1369.6H2114.3V1371.1H2117.5V1372.9H2120.7V1364.7H2123.9V1367.6H2127.2V1372.1H2130.4V1364.7H2133.6V1352.0H2136.8V1369.1H2140.1V1365.4H2143.3V1370.1H2146.5V1365.9H2149.7V1365.9H2153.0V1353.6H2156.2V1367.6H2159.4V1331.0H2162.6V1364.4H2165.9V1357.0H2169.1V1358.7H2172.3V1371.6H2175.5V1363.2H2178.8V1365.6H2182.0V1365.6H2185.2V1370.6H2188.4V1373.3H2191.7V1369.1H2194.9V1372.5H2198.1V1372.5H2201.3V1369.9H2204.6V1361.9H2207.8V1361.9H2211.0V1357.7H2214.2V1368.6H2217.5V1335.7H2220.7V1369.1H2223.9V1365.9H2227.1V1371.1H2230.4V1346.7H2233.6V1357.9H2236.8V1365.2H2240.0V1362.2H2243.3V1362.2H2246.5V1363.2H2249.7V1365.6H2252.9V1362.4H2256.2V1358.7H2259.4V1341.6H2262.6V1350.5H2265.8V1336.8H2269.1V1352.2H2272.3V1346.0H2275.5V1358.7H2278.7V1346.3H2282.0V1344.8H2285.2V1360.9H2288.4V1329.6H2291.6V1312.8H2294.9V1357.9H2298.1V1357.9H2301.3V1358.7H2304.5V1348.3H2307.8V1363.2H2311.0V1358.7H2314.2V1365.6H2317.4V1362.7H2320.7V1350.5H2323.9V1350.5H2327.1V1343.4H2330.3V1347.8H2333.6V1351.2H2336.8V1355.0H2340.0V1347.4H2343.2V1349.0H2346.5V1357.9H2349.7V1354.2H2352.9V1354.2H2356.1V1356.0H2359.4V1354.0H2362.6V1354.0H2365.8V1352.2H2369.0V1347.8H2372.3V1347.8H2375.5V1340.8H2378.7V1353.7H2381.9V1325.8H2385.2V1330.1H2388.4V1339.6H2391.6V1270.3H2394.8V1344.8H2398.1V1324.4H2401.3V1393.6Z" fill="#5aa1ee" clip-path="url(#pc)"/></svg>
<svg width="2480" height="1508" viewBox="0 0 2480 1508">
<rect x="110" y="1268.8" width="2275" height="2.4" fill="#c6d1e0"/>
<path d="M121.6,1268.8V1394.2H104a12,12 0 0 1 -12,-12V1280.8a12,12 0 0 1 12,-12Z" fill="#c3cfde"/>
<path d="M2371,1268.8V1394.2H2389.5a12,12 0 0 0 12,-12V1280.8a12,12 0 0 0 -12,-12Z" fill="#c3cfde"/>
<rect x="103.6" y="1318" width="6.2" height="27" rx="3" fill="#fff"/>
<rect x="2383.4" y="1318" width="6.2" height="27" rx="3" fill="#fff"/>
</svg>
<div class="abs yl" style="top:363.5px">500K</div>
<div class="abs yl" style="top:514.4px">400K</div>
<div class="abs yl" style="top:665.3px">300K</div>
<div class="abs yl" style="top:816.2px">200K</div>
<div class="abs yl" style="top:967.1px">100K</div>
<div class="abs yl" style="top:1118.0px">0</div>
<div class="abs xl" style="left:93.6px">1 Dec</div>
<div class="abs xl" style="left:300.0px">3 Feb</div>
<div class="abs xl" style="left:506.4px">7 Apr</div>
<div class="abs xl" style="left:712.9px">10 Jun</div>
<div class="abs xl" style="left:919.3px">13 Aug</div>
<div class="abs xl" style="left:1125.7px">16 Oct</div>
<div class="abs xl" style="left:1332.1px">19 Dec</div>
<div class="abs xl" style="left:1538.5px">21 Feb</div>
<div class="abs xl" style="left:1745.0px">26 Apr</div>
<div class="abs xl" style="left:1951.4px">29 Jun</div>
<div class="abs xl" style="left:2157.8px">1 Sep</div>
<div class="abs xl" style="left:2364.2px">4 Nov</div>
<div class="abs" id="tip"><div class="abs" id="tipdate">Thu, 13 Nov 2025</div><div class="abs" id="tiplabel">Total Groups and Channels Blocked</div><div class="abs" id="tipval">519,646</div></div>
<svg width="2480" height="1508" viewBox="0 0 2480 1508">
<defs><mask id="bm" maskUnits="userSpaceOnUse" x="1700" y="1250" width="300" height="260"><rect x="1700" y="1250" width="300" height="260" fill="#fff"/>
<g font-family="Liberation Serif, serif" font-size="118" fill="#000"><text transform="translate(1746,1427) scale(0.84,1)">B</text><text transform="translate(1821,1427) scale(0.84,1)">o</text><text transform="translate(1876,1427) scale(0.84,1)">l</text><text transform="translate(1900,1427) scale(0.84,1)">e</text></g></mask>
<clipPath id="wc"><rect x="1965" y="1272" width="515" height="236"/></clipPath></defs>
<g opacity="0.53">
<rect x="1731.5" y="1277" width="230.5" height="225" rx="40" fill="#fff" mask="url(#bm)"/>
<g clip-path="url(#wc)" fill="none" stroke="#fff" stroke-width="16" stroke-linecap="butt">
<path d="M2020,1285 L1992,1335 M2010,1318 V1416"/>
<path d="M2066,1280 L2056,1300 M2037,1300 H2094 V1416 H2037 Z M2037,1352 H2094"/>
<path d="M2210,1285 Q2170,1300 2128,1300 V1340 H2250 M2172,1312 V1410 L2160,1416 M2140,1360 L2118,1412 M2200,1360 L2225,1412"/>
<path d="M2262,1290 L2284,1306 M2255,1318 L2277,1334 M2296,1280 V1350 M2250,1352 H2345 M2296,1352 Q2285,1395 2250,1416 M2300,1374 L2350,1398"/>
<path d="M2420,1285 Q2400,1320 2370,1340 M2400,1300 H2450 Q2440,1330 2480,1350 M2385,1360 H2470 M2425,1345 V1416 M2400,1380 L2380,1410 M2450,1380 L2472,1410"/>
</g>
<text x="1992" y="1499" font-family="Liberation Sans, sans-serif" font-weight="bold" font-size="78" textLength="490" lengthAdjust="spacing" fill="none" stroke="#f1f1f1" stroke-width="1.2">bole80.com</text>
</g>
</svg>
</body></html>
